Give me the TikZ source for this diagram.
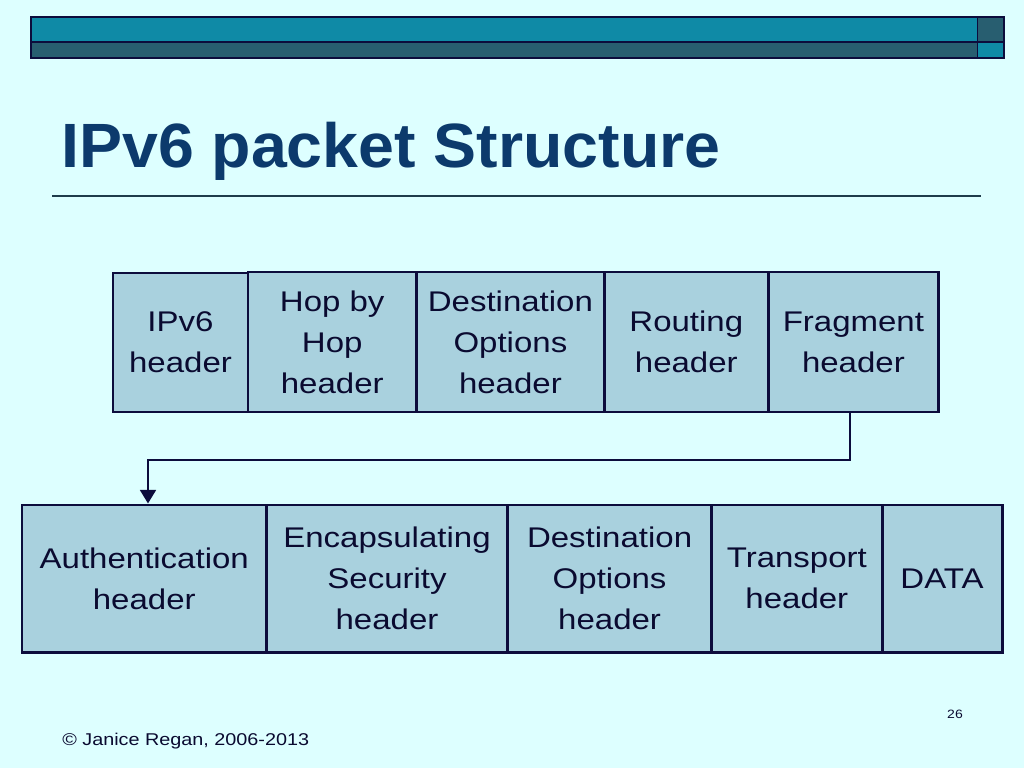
\documentclass[tikz,border=0pt]{standalone}
\usepackage{fontspec}
\usepackage{xcolor}
\usetikzlibrary{arrows.meta}

\newfontfamily\boxfont{Liberation Sans}[FakeStretch=1.16]
\newfontfamily\titlefont{Liberation Sans}

\definecolor{bgcyan}{RGB}{221,255,255}
\definecolor{boxfill}{RGB}{169,209,222}
\definecolor{boxline}{RGB}{12,12,60}
\definecolor{boxtext}{RGB}{10,10,48}
\definecolor{barteal}{RGB}{15,138,166}
\definecolor{bardark}{RGB}{40,94,112}
\definecolor{titleblue}{RGB}{12,58,108}
\definecolor{rulegray}{RGB}{30,60,75}

\newcommand{\pxu}{0.703125pt}

\tikzset{
	hdr/.style={draw=boxline, fill=boxfill, line width=2.1pt, align=center, inner sep=0pt,
		text=boxtext, font=\boxfont\fontsize{20}{28.8}\selectfont},
	toprow/.style={hdr, minimum height=140*\pxu},
	botrow/.style={hdr, minimum height=147.5*\pxu},
	arr/.style={draw=boxline, line width=1.8pt, -{Triangle[width=11pt,length=9.5pt]}}
}

\begin{document}
\begin{tikzpicture}[x=0.703125pt, y=-0.703125pt]
			
			\fill[bgcyan] (0,0) rectangle (1024,768);
			\useasboundingbox (0,0) rectangle (1024,768);
			
			\draw[boxline, line width=1.2pt, fill=barteal] (31,17) rectangle (977.5,42.3);
			\draw[boxline, line width=1.2pt, fill=bardark] (31,42.3) rectangle (977.5,58);
			\draw[boxline, line width=1.2pt, fill=bardark] (977.5,17) rectangle (1004,42.3);
			\draw[boxline, line width=1.2pt, fill=barteal] (977.5,42.3) rectangle (1004,58);
			
			\node (title) at (61,168) [anchor=base west, inner sep=0pt, text=titleblue,
				font=\titlefont\bfseries\fontsize{44}{50}\selectfont, xscale=1.03] {IPv6 packet Structure};
			\draw[rulegray, line width=1pt] (52,196) -- (981,196);
			
			\node (ipv6) at (180.5,342.5) [hdr, minimum width=135*\pxu, minimum height=139*\pxu] {IPv6\\header};
			\node (hop) at (332.25,342) [toprow, minimum width=168.5*\pxu] {Hop by\\Hop\\header};
			\node (dst1) at (510.4,342) [toprow, minimum width=187.8*\pxu] {Destination\\Options\\header};
			\node (rout) at (686.3,342) [toprow, minimum width=164*\pxu] {Routing\\header};
			\node (frag) at (853.4,342) [toprow, minimum width=170.2*\pxu] {Fragment\\header};
			
			\node (auth) at (144.25,578.75) [botrow, minimum width=244.5*\pxu] {Authentication\\header};
			\node (esp) at (387,578.75) [botrow, minimum width=241*\pxu] {Encapsulating\\Security\\header};
			\node (dst2) at (609.6,578.75) [botrow, minimum width=204.2*\pxu] {Destination\\Options\\header};
			\node (trans) at (796.85,578.75) [botrow, minimum width=170.3*\pxu] {Transport\\header};
			\node (data) at (942,578.75) [botrow, minimum width=120*\pxu] {DATA};
			
			\coordinate (turnA) at (850,460);
			\coordinate (turnB) at (148,460);
			\draw[arr] (turnA |- frag.south) -- (turnA) -- (turnB) -- (turnB |- auth.north);
			
			\node (pagenum) at (955,718) [anchor=base, inner sep=0pt, text=boxtext,
				font=\boxfont\fontsize{8.5}{10}\selectfont] {26};
			\node (footer) at (62,745) [anchor=base west, inner sep=0pt, text=boxtext,
				font=\boxfont\fontsize{12}{14}\selectfont] {© Janice Regan, 2006-2013};
			
		\end{tikzpicture}
\end{document}
